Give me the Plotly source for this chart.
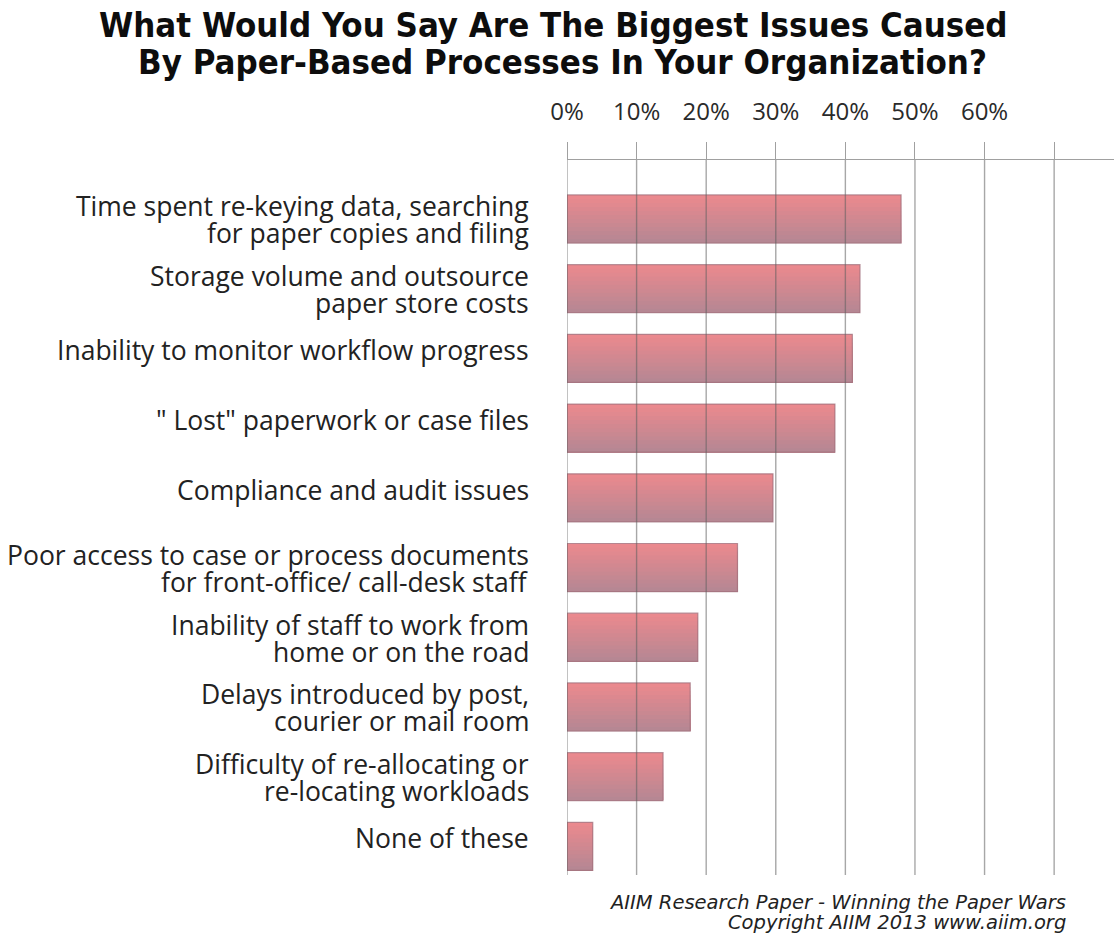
import plotly.graph_objects as go

categories = [
    "Time spent re-keying data, searching<br>for paper copies and filing",
    "Storage volume and outsource<br>paper store costs",
    "Inability to monitor workflow progress",
    "\" Lost\" paperwork or case files",
    "Compliance and audit issues",
    "Poor access to case or process documents<br>for front-office/ call-desk staff",
    "Inability of staff to work from<br>home or on the road",
    "Delays introduced by post,<br>courier or mail room",
    "Difficulty of re-allocating or<br>re-locating workloads",
    "None of these",
]
values = [48.0, 42.1, 41.0, 38.5, 29.6, 24.5, 18.8, 17.7, 13.8, 3.7]
tick_vals = [0, 10, 20, 30, 40, 50, 60, 70]
tick_text = ["0%", "10%", "20%", "30%", "40%", "50%", "60%", ""]

title_line1 = "What Would You Say Are The Biggest Issues Caused"
title_line2 = "By Paper-Based Processes In Your Organization?"
source_line1 = "AIIM Research Paper - Winning the Paper Wars"
source_line2 = "Copyright AIIM 2013 www.aiim.org"

W, H = 1114, 940
ML, MR, MT, MB = 567, 0, 160, 65
PW, PH = W - ML - MR, H - MT - MB

def px_x(x):
    return (x - ML) / PW

def px_y(y):
    return (H - MB - y) / PH

fig = go.Figure()

# simulated vertical gradient on the bars (top pink-red -> bottom mauve)
top_rgb = (234, 137, 142)
bot_rgb = (182, 135, 147)
n_bands = 12
bar_w = 0.69
for i in range(n_bands):
    t = i / (n_bands - 1)
    r = round(top_rgb[0] + (bot_rgb[0] - top_rgb[0]) * t)
    g = round(top_rgb[1] + (bot_rgb[1] - top_rgb[1]) * t)
    b = round(top_rgb[2] + (bot_rgb[2] - top_rgb[2]) * t)
    start = -bar_w / 2 + i * bar_w / n_bands
    fig.add_trace(go.Bar(
        x=values, y=categories, orientation="h",
        width=bar_w / 2 - start,
        offset=start,
        marker=dict(color=f"rgb({r},{g},{b})", line=dict(width=0)),
        showlegend=False, hoverinfo="x+y",
    ))
# thin soft outline on top of the gradient bands
fig.add_trace(go.Bar(
    x=values, y=categories, orientation="h", width=bar_w, offset=-bar_w / 2,
    marker=dict(color="rgba(0,0,0,0)", line=dict(color="rgba(160,112,124,0.75)", width=1.2)),
    showlegend=False, hoverinfo="skip",
))

fig.update_layout(
    width=W, height=H,
    margin=dict(l=ML, r=MR, t=MT, b=MB),
    paper_bgcolor="white", plot_bgcolor="white",
    barmode="overlay",
    font=dict(family="Open Sans, sans-serif", color="#222"),
    xaxis=dict(
        side="top", range=[0, 78.6],
        tickvals=tick_vals, ticktext=tick_text,
        showgrid=False, zeroline=False,
        showline=True, linecolor="#a0a0a0", linewidth=1.3,
        ticks="outside", ticklen=17, tickcolor="#a0a0a0", tickwidth=1.4,
        tickfont=dict(size=24, color="#2a2a2a"),
        ticklabelstandoff=12,
    ),
    yaxis=dict(
        type="category", range=[9.41, -0.846],
        showgrid=False, zeroline=False, showline=False,
        ticks="", showticklabels=False,
    ),
)

# vertical gridlines drawn above the bars (they show through the bars in the original)
for tv in tick_vals:
    fig.add_shape(type="line", xref="x", yref="paper", x0=tv, x1=tv, y0=0, y1=1,
                  line=dict(color="rgba(95,95,95,0.55)", width=1.4), layer="above")

# category labels (tight line spacing like the original), anchored to the category axis
line_gap = 27
for cat in categories:
    lines = cat.split("<br>")
    n = len(lines)
    for j, ln in enumerate(lines):
        shift = ((n - 1) / 2 - j) * line_gap
        if n == 1:
            shift += 8
        else:
            shift -= 1
        fig.add_annotation(
            text=ln, x=px_x(531), xref="paper", y=cat, yref="y",
            yshift=shift, showarrow=False, xanchor="right", yanchor="middle",
            font=dict(family="Open Sans, sans-serif", size=26.5, color="#222"),
        )

title_font = dict(family="DejaVu Sans Condensed, DejaVu Sans, sans-serif", size=34.5,
                  color="#0d0d0d", weight="bold")
fig.add_annotation(text=title_line1, x=px_x(553), y=px_y(25), xref="paper", yref="paper",
                   showarrow=False, xanchor="center", yanchor="middle", font=title_font)
fig.add_annotation(text=title_line2, x=px_x(562), y=px_y(62), xref="paper", yref="paper",
                   showarrow=False, xanchor="center", yanchor="middle", font=title_font)

src_font = dict(family="DejaVu Sans, sans-serif", size=19.5, color="#222", style="italic")
fig.add_annotation(text=source_line1, x=px_x(1068), y=px_y(902), xref="paper", yref="paper",
                   showarrow=False, xanchor="right", yanchor="middle", font=src_font)
fig.add_annotation(text=source_line2, x=px_x(1068), y=px_y(922), xref="paper", yref="paper",
                   showarrow=False, xanchor="right", yanchor="middle", font=src_font)

fig.write_html("out.html")
